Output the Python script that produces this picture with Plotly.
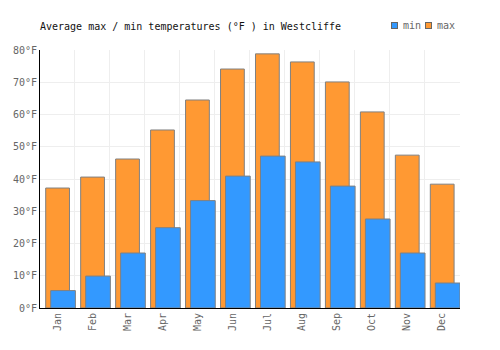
import plotly.graph_objects as go

months = ["Jan", "Feb", "Mar", "Apr", "May", "Jun", "Jul", "Aug", "Sep", "Oct", "Nov", "Dec"]
max_temps = [37.2, 40.6, 46.2, 55.2, 64.5, 74.1, 78.8, 76.3, 70.1, 60.8, 47.4, 38.4]
min_temps = [5.4, 9.9, 17.05, 24.9, 33.3, 40.9, 47.1, 45.3, 37.8, 27.6, 17.05, 7.75]

FONT = "DejaVu Sans Mono"
EDGE = "#808080"
MIN_COLOR = "#3399ff"
MAX_COLOR = "#ff9933"

fig = go.Figure()
fig.add_trace(go.Bar(
    x=months, y=max_temps, name="max",
    marker=dict(color=MAX_COLOR, line=dict(color=EDGE, width=1)),
    width=0.68, offset=-0.337,
))
fig.add_trace(go.Bar(
    x=months, y=min_temps, name="min",
    marker=dict(color=MIN_COLOR, line=dict(color=EDGE, width=1)),
    width=0.706, offset=-0.194,
))

# paper-coordinate helpers for the plot box (40..460 x, 50..308 y in pixels)
def px_x(p):
    return (p - 40) / 420

def px_y(p):
    return (308 - p) / 258

legend_items = [("min", MIN_COLOR, 394.5, 401), ("max", MAX_COLOR, 428.5, 435)]
for label, color, sq_x, tx_x in legend_items:
    fig.add_annotation(
        xref="paper", yref="paper", x=px_x(sq_x), y=px_y(25.5),
        xanchor="center", yanchor="middle", text=" ", showarrow=False,
        width=5, height=5, borderpad=0, borderwidth=1,
        bordercolor="#666", bgcolor=color, font=dict(size=4),
    )
    fig.add_annotation(
        xref="paper", yref="paper", x=px_x(tx_x), y=px_y(25.5),
        xanchor="left", yanchor="middle", text=label, showarrow=False,
        font=dict(family=FONT, size=10, color="#666"),
    )

fig.update_layout(
    width=500, height=350,
    margin=dict(l=40, r=40, t=50, b=42),
    paper_bgcolor="white", plot_bgcolor="white",
    barmode="overlay",
    font=dict(family=FONT, size=10, color="#666"),
    title=dict(text="Average max / min temperatures (°F ) in Westcliffe",
               x=40/500, xanchor="left", y=1-26/350, yanchor="middle",
               font=dict(family=FONT, size=10, color="#111")),
    showlegend=False,
)
fig.update_xaxes(
    type="category", tickson="boundaries", showgrid=True, gridcolor="#eeeeee",
    showline=True, linecolor="black", linewidth=1,
    tickangle=-90, ticks="", tickfont=dict(color="#666"),
)
fig.update_yaxes(
    range=[0, 80], dtick=10, ticksuffix="°F", showgrid=True, gridcolor="#eeeeee",
    showline=True, linecolor="black", linewidth=1, zeroline=False,
    ticks="", tickfont=dict(color="#666"),
)

fig.write_html("out.html")
